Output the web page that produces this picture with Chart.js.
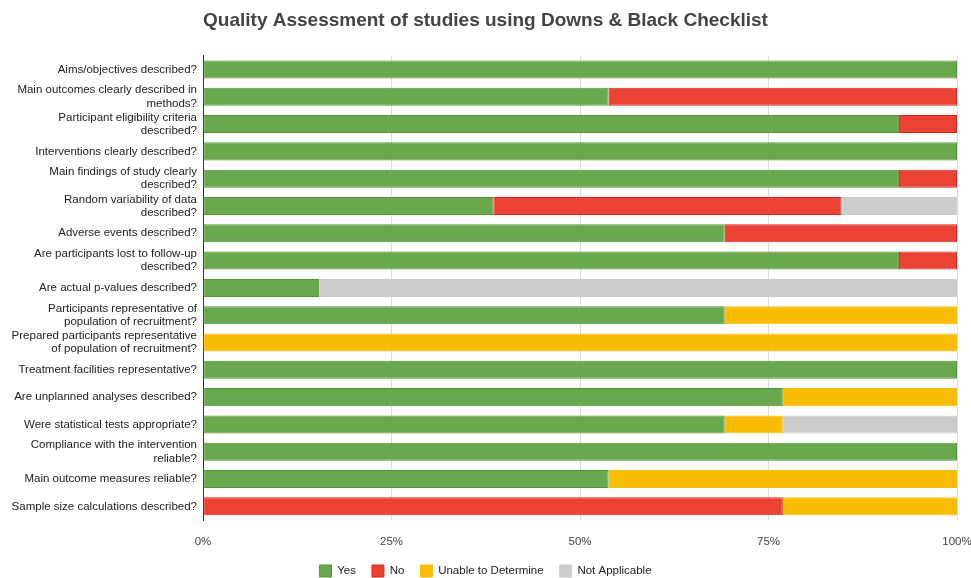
<!DOCTYPE html>
<html>
<head>
<meta charset="utf-8">
<script src="https://cdn.jsdelivr.net/npm/chart.js@4"></script>
<style>
	html, body { margin: 0; padding: 0; background: #fff; }
	#wrap { width: 971px; height: 578px; }
</style>
</head>
<body>
<div id="wrap"><canvas id="chart"></canvas></div>
<script>
let labels = [
	'Aims/objectives described?',
	['Main outcomes clearly described in', 'methods?'],
	['Participant eligibility criteria', 'described?'],
	'Interventions clearly described?',
	['Main findings of study clearly', 'described?'],
	['Random variability of data', 'described?'],
	'Adverse events described?',
	['Are participants lost to follow-up', 'described?'],
	'Are actual p-values described?',
	['Participants representative of', 'population of recruitment?'],
	['Prepared participants representative', 'of population of recruitment?'],
	'Treatment facilities representative?',
	'Are unplanned analyses described?',
	'Were statistical tests appropriate?',
	['Compliance with the intervention', 'reliable?'],
	'Main outcome measures reliable?',
	'Sample size calculations described?'
];

let yesValues = [100, 53.8, 92.3, 100, 92.3, 38.5, 69.2, 92.3, 15.4, 69.2, 0, 100, 76.9, 69.2, 100, 53.8, 0];
let noValues = [0, 46.2, 7.7, 0, 7.7, 46.2, 30.8, 7.7, 0, 0, 0, 0, 0, 0, 0, 0, 76.9];
let unableValues = [0, 0, 0, 0, 0, 0, 0, 0, 0, 30.8, 100, 0, 23.1, 7.7, 0, 46.2, 23.1];
let naValues = [0, 0, 0, 0, 0, 15.4, 0, 0, 84.6, 0, 0, 0, 0, 23.1, 0, 0, 0];

let xTicks = [0, 25, 50, 75, 100];

function makeSet(label, data, fill, border) {
	return {
		label: label,
		data: data,
		backgroundColor: fill,
		borderColor: border,
		borderWidth: 1,
		borderSkipped: false,
		categoryPercentage: 1,
		barPercentage: 0.66
	};
}

document.addEventListener('DOMContentLoaded', () => {
	let ctx = document.getElementById('chart').getContext('2d');
	Chart.defaults.font.family = '"Liberation Sans", Arial, sans-serif';
	Chart.defaults.color = '#222';

	new Chart(ctx, {
		type: 'bar',
		data: {
			labels: labels,
			datasets: [
				makeSet('Yes', yesValues, '#6aa84f', '#4f9a30'),
				makeSet('No', noValues, '#ea4335', '#e3241a'),
				makeSet('Unable to Determine', unableValues, '#fbbc04', '#fbbc04'),
				makeSet('Not Applicable', naValues, '#cccccc', '#cccccc')
			]
		},
		options: {
			indexAxis: 'y',
			responsive: true,
			maintainAspectRatio: false,
			animation: false,
			layout: { padding: { left: 0, right: 0, top: 0, bottom: -9 } },
			plugins: {
				title: {
					display: true,
					text: 'Quality Assessment of studies using Downs & Black Checklist',
					color: '#444',
					font: { size: 19, weight: 'bold' },
					padding: { top: 9, bottom: 24 }
				},
				legend: {
					position: 'bottom',
					labels: {
						boxWidth: 12,
						boxHeight: 12,
						padding: 16,
						color: '#222',
						font: { size: 11.5 }
					}
				},
				tooltip: { enabled: false }
			},
			scales: {
				x: {
					stacked: true,
					min: 0,
					max: 100,
					afterBuildTicks: (scale) => {
						scale.ticks = xTicks.map(v => ({ value: v }));
					},
					afterFit: (scale) => {
						scale.height = 29;
						scale.paddingRight = 14;
					},
					ticks: {
						callback: (v) => v + '%',
						color: '#444',
						font: { size: 11.5 },
						padding: 15
					},
					grid: { color: '#dddddd', drawTicks: false },
					border: { display: false }
				},
				y: {
					stacked: true,
					afterFit: (scale) => { scale.width = 203; },
					ticks: {
						autoSkip: false,
						color: '#222',
						font: { size: 11.5, lineHeight: 1.15 },
						padding: 6
					},
					grid: { display: false, drawTicks: false },
					border: { display: true, color: '#333', width: 1 }
				}
			}
		}
	});
});
</script>
</body>
</html>
